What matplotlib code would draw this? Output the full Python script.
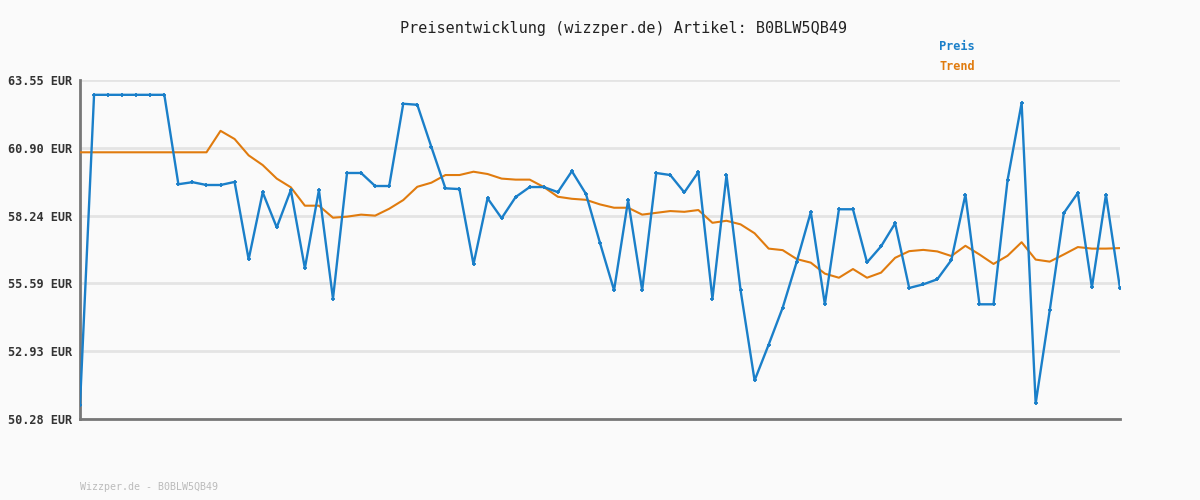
import numpy as np
import matplotlib.pyplot as plt

# --- DATOS ---
yticks = [50.28, 52.93, 55.59, 58.24, 60.90, 63.55]
ytick_labels = [f"{v:.2f} EUR" for v in yticks]

preis = [50.83, 62.97, 62.97, 62.97, 62.97, 62.97, 62.97,
         59.47, 59.55, 59.44, 59.44, 59.56, 56.53, 59.15, 57.78, 59.24, 56.18, 59.24, 54.99, 59.91, 59.91,
         59.40, 59.40, 62.62, 62.58, 60.93, 59.31, 59.28, 56.34, 58.92, 58.14, 58.97, 59.36, 59.36, 59.16,
         59.98, 59.09, 57.17, 55.32, 58.84, 55.32, 59.91,
         59.83, 59.15, 59.95, 54.99, 59.82, 55.33, 51.79, 53.19, 54.64, 56.44, 58.38, 54.77, 58.49, 58.49,
         56.41, 57.04, 57.94, 55.41, 55.55, 55.75, 56.50, 59.06, 54.77, 54.77, 59.63, 62.65, 50.89, 54.53,
         58.34, 59.13, 55.43, 59.06, 55.39]

trend = [60.72] * 10 + [
         61.56, 61.24, 60.60, 60.22, 59.69, 59.35, 58.63, 58.63, 58.16, 58.20, 58.28,
         58.24, 58.51, 58.85, 59.37, 59.53, 59.83, 59.83, 59.96, 59.87, 59.69, 59.65, 59.65, 59.36,
         58.98, 58.90, 58.86, 58.68, 58.55, 58.55, 58.28, 58.35,
         58.42, 58.39, 58.46, 57.96, 58.04, 57.90, 57.55, 56.95, 56.89, 56.54, 56.40, 55.97, 55.81,
         56.15, 55.81, 56.01, 56.59, 56.85, 56.90, 56.84, 56.66, 57.06, 56.72, 56.35, 56.67, 57.20,
         56.52, 56.44, 56.72, 57.01, 56.95, 56.95, 56.97]

artikel = "B0BLW5QB49"

# --- ESTILO ---
BG = '#fafafa'
BLUE = '#1a7fc9'
ORANGE = '#e07b0e'
MONO = 'DejaVu Sans Mono'

fig = plt.figure(figsize=(12, 5), dpi=100, facecolor=BG)
ax = fig.add_axes([80/1200, 81/500, 1040/1200, 339/500], facecolor=BG)

x = np.arange(len(preis))
ax.plot(x, trend, color=ORANGE, lw=1.5, zorder=3)
ax.plot(x, preis, color=BLUE, lw=1.7, marker='+', ms=3.5, mew=1.3, zorder=4)

ax.set_xlim(0, len(preis) - 1)
ax.set_ylim(yticks[0], yticks[-1])
ax.set_yticks(yticks)
ax.set_yticklabels(ytick_labels, fontfamily=MONO, fontsize=8.6, fontweight='bold', color='#333333')
ax.set_xticks([])
ax.tick_params(axis='y', length=0, pad=6)
ax.grid(axis='y', color='#e4e4e4', lw=2, zorder=0)

for s in ['top', 'right']:
    ax.spines[s].set_visible(False)
for s in ['left', 'bottom']:
    ax.spines[s].set_color('#777777')
    ax.spines[s].set_linewidth(2)

fig.text(624/1200, 1 - 28/500, f"Preisentwicklung (wizzper.de) Artikel: {artikel}",
         ha='center', va='center', fontfamily=MONO, fontsize=10.9, color='#222222')
fig.text(939/1200, 1 - 47/500, "Preis", ha='left', va='center', fontfamily=MONO,
         fontsize=8.6, fontweight='bold', color=BLUE)
fig.text(939/1200, 1 - 67/500, "Trend", ha='left', va='center', fontfamily=MONO,
         fontsize=8.6, fontweight='bold', color=ORANGE)
fig.text(80/1200, 1 - 487/500, f"Wizzper.de - {artikel}", ha='left', va='center',
         fontfamily=MONO, fontsize=7.2, color='#bbbbbb')

fig.savefig('out.png', dpi=100, facecolor=BG)
